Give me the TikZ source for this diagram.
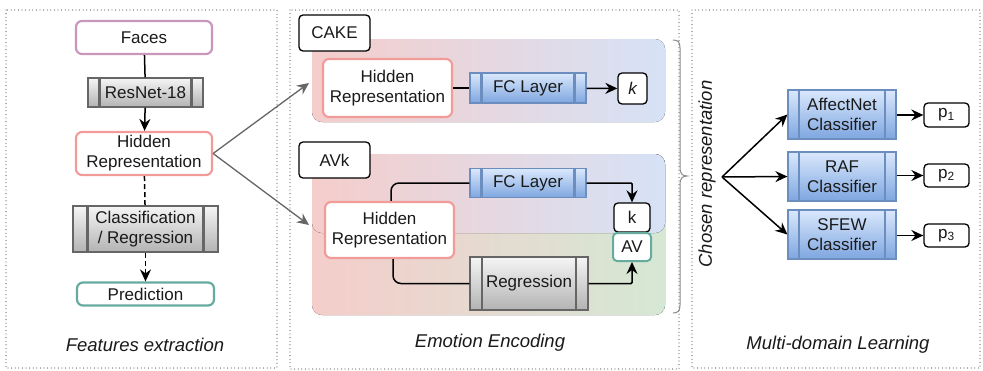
\documentclass[tikz,border=0pt]{standalone}
\usepackage{fontspec}
\setmainfont{Liberation Sans}
\usetikzlibrary{arrows.meta,calc}
\definecolor{txt}{HTML}{1A1A1A}
\definecolor{facesc}{HTML}{C996BD}
\definecolor{hidc}{HTML}{F19C99}
\definecolor{tealc}{HTML}{67AB9F}
\definecolor{grayA}{HTML}{F5F5F5}
\definecolor{grayB}{HTML}{B3B3B3}
\definecolor{grayS}{HTML}{666666}
\definecolor{blueA}{HTML}{DAE8FC}
\definecolor{blueB}{HTML}{7EA6E0}
\definecolor{blueS}{HTML}{6C8EBF}
\definecolor{pinkbg}{HTML}{F5CDCB}
\definecolor{bluebg}{HTML}{D6E2F6}
\definecolor{greenbg}{HTML}{D5E8D4}
\definecolor{panelc}{HTML}{707070}
\definecolor{bracec}{HTML}{8A8A8A}
\tikzset{
  base/.style={font=\fontsize{17}{20}\selectfont, align=center, inner sep=0pt, text=txt},
  lab/.style={font=\fontsize{18.5}{22}\selectfont\itshape, text=txt, inner sep=0pt},
  bbox/.style={base, draw=black, line width=1.3pt, rounded corners=4pt, fill=white},
  cbox/.style={base, draw=#1, line width=2.2pt, rounded corners=6pt, fill=white},
  inner lines/.style={path picture={
      \draw[#1, line width=2.4pt]
        ($(path picture bounding box.north west)!0.1!(path picture bounding box.north east)$) --
        ($(path picture bounding box.south west)!0.1!(path picture bounding box.south east)$);
      \draw[#1, line width=2.4pt]
        ($(path picture bounding box.north west)!0.9!(path picture bounding box.north east)$) --
        ($(path picture bounding box.south west)!0.9!(path picture bounding box.south east)$);
  }},
  procg/.style={base, draw=grayS, line width=1.2pt, top color=grayA, bottom color=grayB, inner lines=grayS},
  procb/.style={base, draw=blueS, line width=1.2pt, top color=blueA, bottom color=blueB, inner lines=blueS},
  conn/.style={line width=1.5pt, draw=black},
  dashline/.style={dash pattern=on 5pt off 3pt},
  arr/.style={conn, -{Stealth[length=12pt,width=11pt,inset=4pt]}},
  garr/.style={line width=1.3pt, draw=grayS, -{Stealth[length=12pt,width=11pt,inset=4pt]}},
  panel/.style={draw=panelc, line width=1.3pt, line cap=round, dash pattern=on 0pt off 3.6pt},
}
\begin{document}
\begin{tikzpicture}[x=1pt, y=-1pt]
\useasboundingbox (0,0) rectangle (983,370);
\fill[white] (0,0) rectangle (983,370);

% panels
\draw[panel] (6,10) rectangle (277,368);
\draw[panel] (290,10) rectangle (679,369);
\draw[panel] (692,10) rectangle (980,368);

% ---------- Panel 1 ----------
\node[cbox=facesc, minimum width=136pt, minimum height=33pt] (faces) at (144,37.5) {Faces};
\node[procg, minimum width=115pt, minimum height=29pt] (resnet) at (145.5,92.5) {ResNet-18};
\node[cbox=hidc, minimum width=136pt, minimum height=43pt] (hr1) at (144,153.5) {Hidden\\Representation};
\node[procg, minimum width=145pt, minimum height=46pt] (cls) at (145.5,229) {Classification\\/ Regression};
\node[cbox=tealc, minimum width=137pt, minimum height=23pt] (pred) at (145.5,294) {Prediction};
\node[lab] (lab1) at (145,345) {Features extraction};

\draw[conn] (faces) -- (resnet);
\draw[arr] (resnet) -- (hr1);
\draw[conn, dashline] (hr1) -- (cls);
\draw[arr, dashline] (cls) -- (pred);

% ---------- Panel 2 ----------
\fill[left color=pinkbg, right color=bluebg, rounded corners=10pt] (312,39) rectangle (665,122);
\fill[left color=pinkbg, right color=greenbg, rounded corners=10pt] (312,154) rectangle (665,315);
\fill[left color=pinkbg, right color=bluebg, rounded corners=10pt] (312,154) rectangle (665,233);

\node[bbox, minimum width=71pt, minimum height=36pt] (cake) at (334.5,33) {CAKE};
\node[cbox=hidc, minimum width=129pt, minimum height=58pt] (hr2) at (387.5,88) {Hidden\\Representation};
\node[procb, minimum width=116pt, minimum height=30pt] (fc1) at (528,88) {FC Layer};
\node[bbox, minimum width=29pt, minimum height=31pt] (k1) at (632.5,88.5) {\itshape k};
\draw[conn] (hr2) -- (fc1);
\draw[arr] (fc1) -- (k1);

\node[bbox, minimum width=71pt, minimum height=36pt] (avk) at (334.5,160) {AVk};
\node[cbox=hidc, minimum width=129pt, minimum height=56pt] (hr3) at (389.5,230) {Hidden\\Representation};
\node[procb, minimum width=116pt, minimum height=29pt] (fc2) at (528,183) {FC Layer};
\node[procg, minimum width=118pt, minimum height=53pt] (reg) at (529,283.5) {Regression};
\node[bbox, minimum width=36pt, minimum height=29pt] (k2) at (632,217.5) {k};
\node[cbox=tealc, line width=2pt, rounded corners=4pt, minimum width=38pt, minimum height=28pt] (av) at (632,247) {AV};

\draw[conn, rounded corners=8pt] (hr3.north -| 391,0) -- (391,183) -- (fc2.west);
\draw[arr, rounded corners=1pt] (fc2.east) -- (k2.north |- fc2.east) -- (k2.north);
\draw[conn, rounded corners=8pt] (hr3.south -| 393,0) -- (393,283.5) -- (reg.west);
\draw[arr, rounded corners=1pt] (reg.east) -- (av.south |- reg.east) -- (av.south);

\node[lab] (lab2) at (490,343) {Emotion Encoding};

% gray arrows from panel 1
\coordinate (cakein) at (309,83);
\coordinate (avkin) at (309,225);
\draw[garr] (hr1.east) -- (cakein);
\draw[garr] (hr1.east) -- (avkin);

% brace
\draw[bracec, line width=1pt] (673,40) .. controls (678,40) and (680,42) .. (680,48)
  -- (680,168) .. controls (680,173) and (682,176) .. (687,176)
  .. controls (682,176) and (680,179) .. (680,184)
  -- (680,305) .. controls (680,311) and (678,313) .. (673,313);

% ---------- Panel 3 ----------
\node[lab, rotate=90] (chosen) at (707,174) {Chosen representation};
\coordinate (fan) at (722,177);
\node[procb, minimum width=108pt, minimum height=49pt] (aff) at (842,114.5) {AffectNet\\Classifier};
\node[procb, minimum width=108pt, minimum height=49pt] (raf) at (842,176.5) {RAF\\Classifier};
\node[procb, minimum width=108pt, minimum height=49pt] (sfew) at (842,234.5) {SFEW\\Classifier};
\node[bbox, minimum width=45pt, minimum height=24pt] (p1) at (946.5,115) {p\textsubscript{1}};
\node[bbox, minimum width=45pt, minimum height=23pt] (p2) at (946.5,175.5) {p\textsubscript{2}};
\node[bbox, minimum width=45pt, minimum height=23pt] (p3) at (946.5,235.5) {p\textsubscript{3}};
\draw[arr] (fan) -- (aff.west);
\draw[arr] (fan) -- (raf.west);
\draw[arr] (fan) -- (sfew.west);
\draw[arr] (aff.east |- p1) -- (p1.west);
\draw[arr] (raf.east |- p2) -- (p2.west);
\draw[arr] (sfew.east |- p3) -- (p3.west);

\node[lab] (lab3) at (838,345) {Multi-domain Learning};
\end{tikzpicture}
\end{document}
